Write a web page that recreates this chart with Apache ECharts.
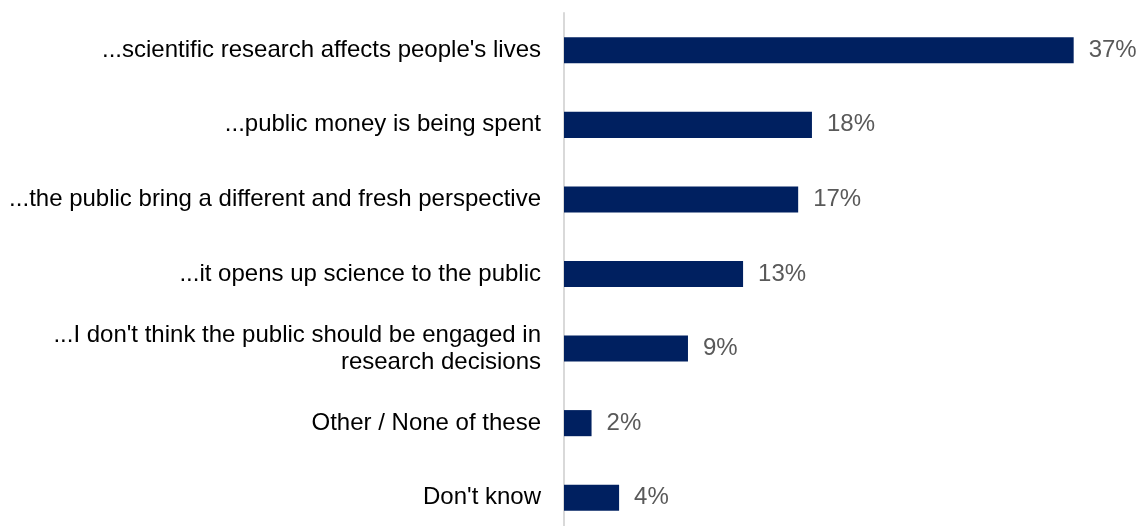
<!DOCTYPE html>
<html>
<head>
<meta charset="utf-8">
<script src="https://cdn.jsdelivr.net/npm/echarts@6/dist/echarts.min.js"></script>
<style>
html,body{margin:0;padding:0;background:#fff;}
#chart{width:1137px;height:526px;}
</style>
</head>
<body>
<div id="chart"></div>
<script>
const categories = [
  "...scientific research affects people's lives",
  "...public money is being spent",
  "...the public bring a different and fresh perspective",
  "...it opens up science to the public",
  "...I don't think the public should be engaged in\nresearch decisions",
  "Other / None of these",
  "Don't know"
];
const values = [37, 18, 17, 13, 9, 2, 4];

const chart = echarts.init(document.getElementById('chart'), null, {renderer: 'canvas'});
chart.setOption({
  animation: false,
  grid: {left: 564, right: 22, top: 13, height: 522, containLabel: false, outerBoundsMode: 'none'},
  xAxis: {
    type: 'value', min: 0, max: 40,
    show: false
  },
  yAxis: {
    type: 'category', data: categories, inverse: true,
    axisLine: {show: true, lineStyle: {color: '#d9d9d9', width: 2}},
    axisTick: {show: false},
    axisLabel: {
      margin: 23, fontFamily: 'Liberation Sans, Arial, sans-serif',
      fontSize: 24, color: '#000000', align: 'right', lineHeight: 27
    }
  },
  series: [{
    type: 'bar', data: values, barWidth: '35%',
    itemStyle: {color: '#002060'},
    label: {
      show: true, position: 'right', distance: 15,
      formatter: '{c}%',
      fontFamily: 'Liberation Sans, Arial, sans-serif',
      fontSize: 24, color: '#595959'
    }
  }]
});
</script>
</body>
</html>
